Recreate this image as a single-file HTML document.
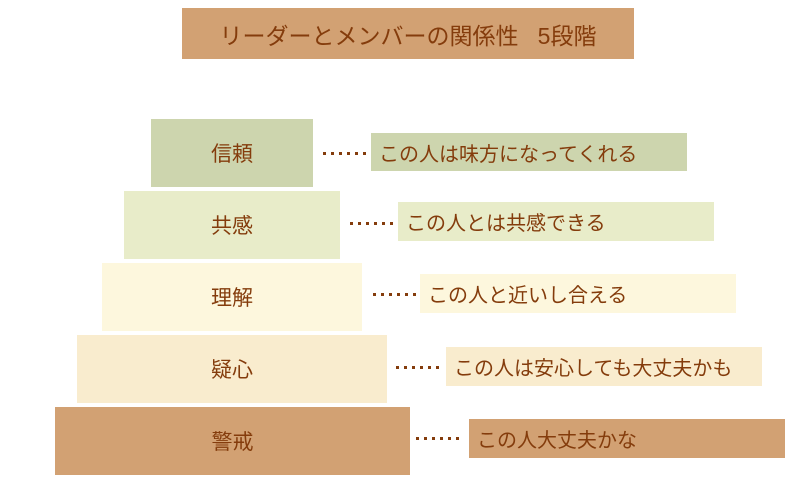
<!DOCTYPE html>
<html><head><meta charset="utf-8"><style>
body{margin:0;width:804px;height:483px;background:#fff;position:relative;overflow:hidden;font-family:"Liberation Sans","Noto Sans CJK JP",sans-serif;color:#843c0c}
.b{position:absolute;display:flex;align-items:center;justify-content:center;font-size:21px}
.l{position:absolute;display:flex;align-items:center;padding-left:8px;box-sizing:border-box;font-size:20px;white-space:nowrap}
.d{position:absolute;height:3px;background:repeating-linear-gradient(90deg,#843c0c 0 3px,transparent 3px 8px)}
</style></head><body>
<div class="b" style="left:182px;top:8px;width:452px;height:51px;background:#d2a173;font-size:23px">リーダーとメンバーの関係性&nbsp;&nbsp;&nbsp;5段階</div>

<div class="b" style="left:151px;top:119px;width:162px;height:68px;background:#cdd5ae">信頼</div>
<div class="d" style="left:323px;top:152px;width:44px"></div>
<div class="l" style="left:371px;top:133px;width:316px;height:38px;background:#cdd5ae">この人は味方になってくれる</div>

<div class="b" style="left:124px;top:191px;width:216px;height:68px;background:#e8ecc9">共感</div>
<div class="d" style="left:350px;top:222px;width:44px"></div>
<div class="l" style="left:398px;top:202px;width:316px;height:39px;background:#e8ecc9">この人とは共感できる</div>

<div class="b" style="left:102px;top:263px;width:260px;height:68px;background:#fdf7dd">理解</div>
<div class="d" style="left:373px;top:293px;width:44px"></div>
<div class="l" style="left:420px;top:274px;width:316px;height:39px;background:#fdf7dd">この人と近いし合える</div>

<div class="b" style="left:77px;top:335px;width:310px;height:68px;background:#f9ecce">疑心</div>
<div class="d" style="left:396px;top:366px;width:46px"></div>
<div class="l" style="left:446px;top:347px;width:316px;height:39px;background:#f9ecce">この人は安心しても大丈夫かも</div>

<div class="b" style="left:55px;top:407px;width:355px;height:68px;background:#d2a173">警戒</div>
<div class="d" style="left:416px;top:437px;width:44px"></div>
<div class="l" style="left:469px;top:419px;width:316px;height:39px;background:#d2a173">この人大丈夫かな</div>
</body></html>
